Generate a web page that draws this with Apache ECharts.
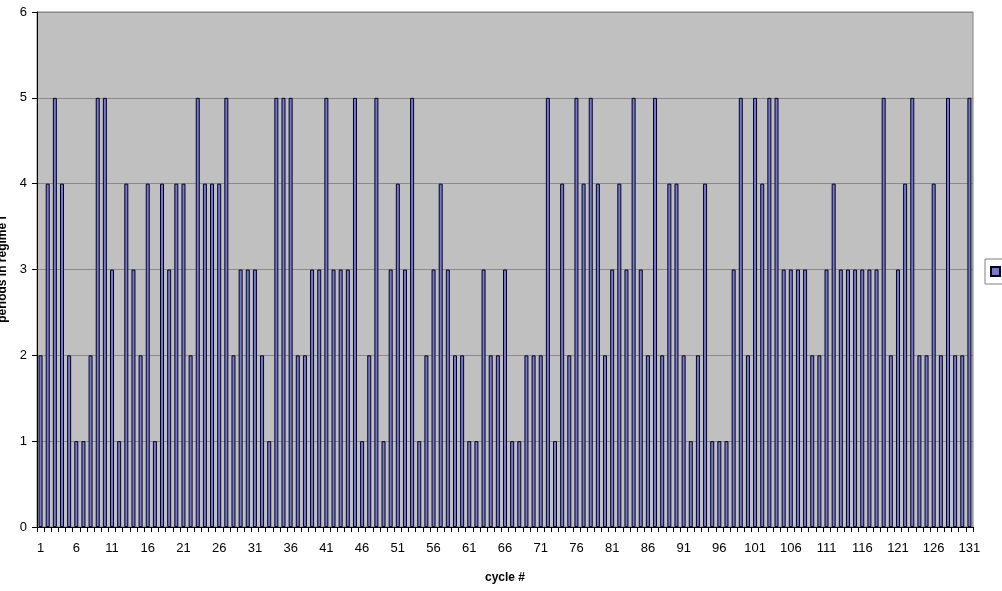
<!DOCTYPE html>
<html>
<head>
<meta charset="utf-8">
<script src="https://cdn.jsdelivr.net/npm/echarts@6/dist/echarts.min.js"></script>
<style>html,body{margin:0;padding:0;background:#fff}#c{width:1002px;height:591px}</style>
</head>
<body>
<div id="c"></div>
<script>
const categories = [];
for (let i = 1; i <= 131; i++) categories.push(String(i));
const values = [
  2,4,5,4,2,1,1,2,5,5,
  3,1,4,3,2,4,1,4,3,4,
  4,2,5,4,4,4,5,2,3,3,
  3,2,1,5,5,5,2,2,3,3,
  5,3,3,3,5,1,2,5,1,3,
  4,3,5,1,2,3,4,3,2,2,
  1,1,3,2,2,3,1,1,2,2,
  2,5,1,4,2,5,4,5,4,2,
  3,4,3,5,3,2,5,2,4,4,
  2,1,2,4,1,1,1,3,5,2,
  5,4,5,5,3,3,3,3,2,2,
  3,4,3,3,3,3,3,3,5,2,
  3,4,5,2,2,4,2,5,2,2,
  5
];
const yTicks = [0,1,2,3,4,5,6];
const seriesName = 'Series1';
const xName = 'cycle #';
const yName = 'periods in regime I';

const chart = echarts.init(document.getElementById('c'), null, {renderer: 'canvas'});
const font = '"Liberation Sans", Arial, sans-serif';
chart.setOption({
  animation: false,
  textStyle: {fontFamily: font},
  grid: {left: 37, right: 29, top: 12, bottom: 64, show: true, backgroundColor: '#C0C0C0', borderColor: '#808080', borderWidth: 1, containLabel: false, outerBoundsMode: 'none'},
  legend: {
    show: true, left: 985, top: 259, orient: 'vertical',
    data: [seriesName],
    icon: 'rect', itemWidth: 9, itemHeight: 9, itemGap: 0,
    padding: [6, 5, 6, 5],
    borderColor: '#808080', borderWidth: 1, backgroundColor: '#fff',
    textStyle: {fontSize: 13, color: '#000', fontFamily: font}
  },
  xAxis: {
    type: 'category', data: categories,
    name: xName, nameLocation: 'middle', nameGap: 45,
    nameTextStyle: {fontWeight: 'bold', fontSize: 12, color: '#000', fontFamily: font},
    axisLine: {lineStyle: {color: '#000', width: 1}},
    axisTick: {show: true, alignWithLabel: false, interval: 0, length: 5, lineStyle: {color: '#000'}},
    axisLabel: {interval: 4, fontSize: 13, color: '#000', margin: 15, fontFamily: font},
    splitLine: {show: false}
  },
  yAxis: {
    type: 'value', min: 0, max: 6, interval: 1,
    name: yName, nameLocation: 'middle', nameGap: 26, nameRotate: 90,
    nameTextStyle: {fontWeight: 'bold', fontSize: 12, color: '#000', fontFamily: font},
    axisLine: {show: true, lineStyle: {color: '#000', width: 1}},
    axisTick: {show: true, length: 5, lineStyle: {color: '#000'}},
    axisLabel: {fontSize: 13, color: '#000', margin: 10, fontFamily: font,
      formatter: v => yTicks.includes(v) ? String(v) : ''},
    splitLine: {show: true, lineStyle: {color: '#8a8a8a', width: 1}}
  },
  series: [{
    name: seriesName, type: 'bar', data: values,
    barWidth: 4,
    itemStyle: {color: '#7777CC', borderColor: '#000022', borderWidth: 1}
  }]
});
</script>
</body>
</html>
